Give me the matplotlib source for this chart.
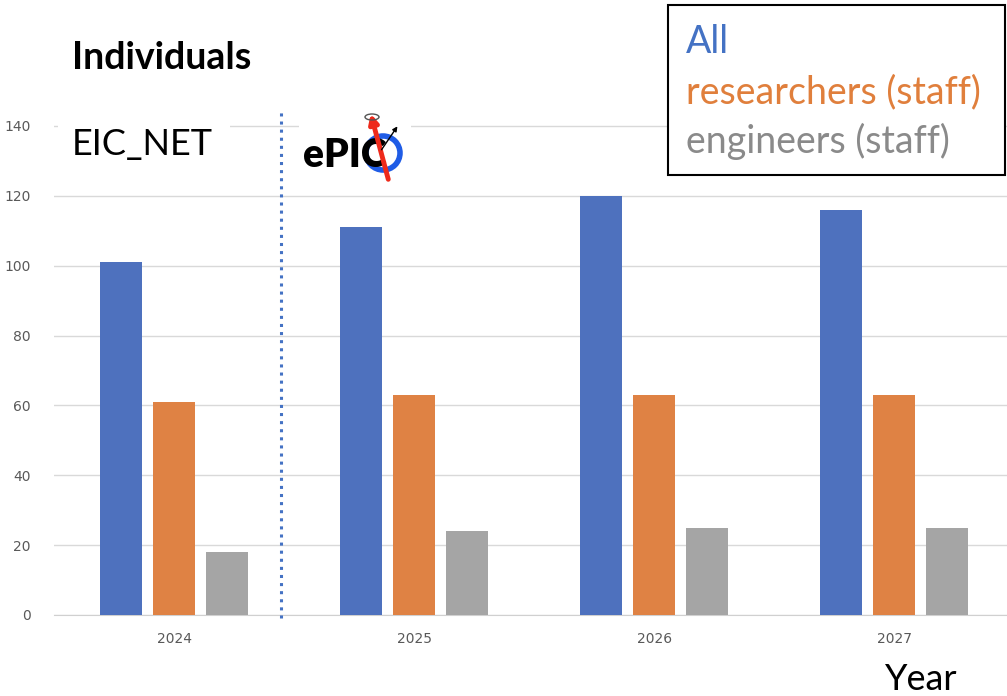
import matplotlib
matplotlib.use("Agg")
import matplotlib.pyplot as plt
from matplotlib.patches import Rectangle, Ellipse, FancyArrowPatch
import numpy as np

years = ["2024", "2025", "2026", "2027"]
all_people = [101, 111, 120, 116]
researchers = [61, 63, 63, 63]
engineers = [18, 24, 25, 25]

series_names = ["All", "researchers (staff)", "engineers (staff)"]
bar_colors = ["#4e71be", "#df8244", "#a5a5a5"]
text_colors = ["#4472c4", "#e07f3c", "#8a8a8a"]

W, H = 1007, 696
fig = plt.figure(figsize=(W / 100, H / 100), dpi=100)
fig.patch.set_facecolor("white")


def fx(px):
    return px / W


def fy(py):
    return 1 - py / H


# plot area in pixel terms: left 54, bottom 615, top 112
ax = fig.add_axes([fx(54), fy(615), 1 - fx(54), (615 - 112) / H])

x = np.arange(len(years))
offsets = [-0.222, 0.0, 0.222]
width = 0.175
for vals, off, col in zip([all_people, researchers, engineers], offsets, bar_colors):
    ax.bar(x + off, vals, width=width, color=col, zorder=3)

ax.set_xlim(-0.5, 3.47)
ax.set_ylim(0, 144)
ax.set_yticks(range(0, 141, 20))
ax.set_xticks(x)
ax.set_xticklabels(years)
ax.tick_params(axis="both", length=0, colors="#595959", labelsize=10)
ax.tick_params(axis="y", pad=17)
ax.tick_params(axis="x", pad=12)
ax.grid(axis="y", color="#d9d9d9", linewidth=1, zorder=0)
for side in ["top", "right", "left"]:
    ax.spines[side].set_visible(False)
ax.spines["bottom"].set_color("#d0d0d0")
ax.spines["bottom"].set_zorder(1)

# dotted separator between the EIC_NET and ePIC years
ax.plot([0.446, 0.446], [-1, 144], color="#4472c4", linestyle=":", linewidth=2.2,
        clip_on=False, zorder=4)

# white patches behind the labels in the plot area
fig.add_artist(Rectangle((fx(58), fy(185)), fx(172), (185 - 110) / H,
                         facecolor="white", edgecolor="none", zorder=5))
fig.add_artist(Rectangle((fx(299), fy(185)), fx(112), (185 - 108) / H,
                         facecolor="white", edgecolor="none", zorder=5))

fig.text(fx(72), fy(69), "Individuals", fontsize=27, fontweight="bold",
         family="Lato", va="baseline", ha="left", zorder=6)
fig.text(fx(72), fy(155), "EIC_NET", fontsize=26, family="Lato",
         va="baseline", ha="left", zorder=6)

# ePIC logo
fig.add_artist(Ellipse((fx(383), fy(153)), 34 / W, 34 / H, transform=fig.transFigure,
                       facecolor="none", edgecolor="#1f5ce6", linewidth=4, zorder=6))
fig.text(fx(303), fy(167), "ePIC", fontsize=28, fontweight="heavy",
         family="Lato", va="baseline", ha="left", zorder=7)
fig.add_artist(FancyArrowPatch((fx(389), fy(182)), (fx(370), fy(111)),
                               transform=fig.transFigure, arrowstyle="-|>",
                               mutation_scale=13, color="#ee2a1b", linewidth=3.5, zorder=8))
fig.add_artist(FancyArrowPatch((fx(380), fy(152)), (fx(399), fy(124)),
                               transform=fig.transFigure, arrowstyle="-|>",
                               mutation_scale=7, color="black", linewidth=1, zorder=8))
fig.add_artist(Ellipse((fx(372), fy(117)), 14 / W, 6 / H, transform=fig.transFigure,
                       facecolor="none", edgecolor="#555555", linewidth=1, zorder=8))

# legend box
fig.add_artist(Rectangle((fx(668), fy(175)), fx(1005 - 668), (175 - 5) / H,
                         facecolor="white", edgecolor="black", linewidth=1.5, zorder=6))
for i, (name, col) in enumerate(zip(series_names, text_colors)):
    fig.text(fx(686), fy(53 + 50 * i), name, fontsize=27, family="Lato",
             color=col, va="baseline", ha="left", zorder=7)

fig.text(fx(885), fy(690), "Year", fontsize=26, family="Lato",
         va="baseline", ha="left")

fig.savefig("out.png", dpi=100)
